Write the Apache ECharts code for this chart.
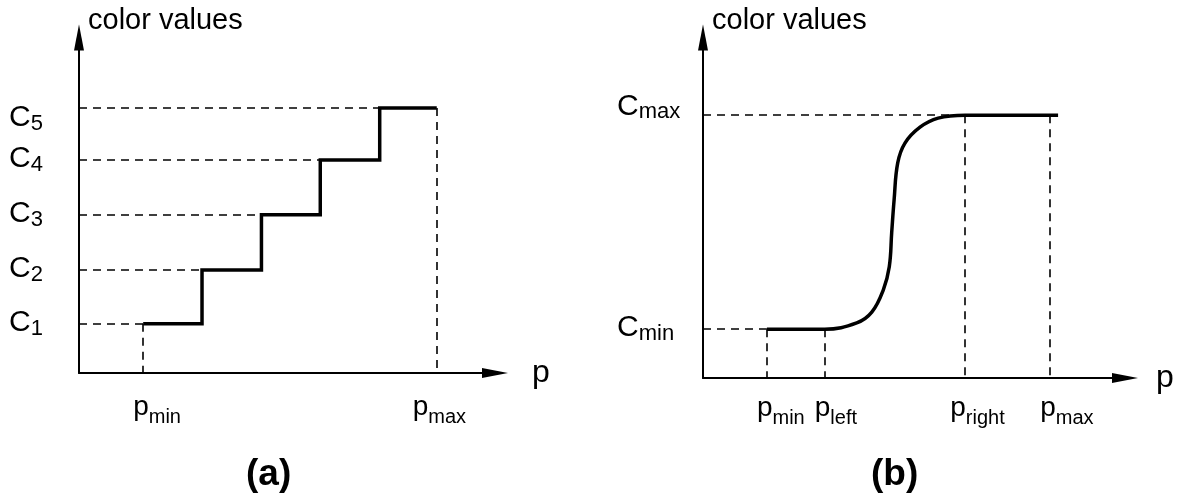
<!DOCTYPE html>
<html>
<head>
<meta charset="utf-8">
<title>color values</title>
<script src="https://cdn.jsdelivr.net/npm/echarts@6.0.0/dist/echarts.min.js"></script>
<style>
  html, body { margin: 0; padding: 0; background: #fff; }
  #main { width: 1179px; height: 503px; }
</style>
</head>
<body>
<div id="main"></div>
<script>
// (a) piecewise constant map: edges along p (pmin .. pmax) and the levels C1..C5
var stepEdges = [1.08, 2.07, 3.07, 4.06, 5.06, 6.02]
var stepLevels = [0.88, 1.84, 2.83, 3.81, 4.74]
var stepLevelNames = ['1', '2', '3', '4', '5']
var stepTickNames = ['min', 'max']

// (b) smooth ramp from Cmin to Cmax
var rampP = [1.06, 2.02, 2.55, 2.80, 2.99, 3.09, 3.13, 3.17, 3.23, 3.35, 3.60, 3.90, 4.35, 5.89]
var rampC = [0.86, 0.86, 0.97, 1.16, 1.55, 1.96, 2.56, 3.14, 3.79, 4.14, 4.42, 4.58, 4.63, 4.63]
var rampTicks = [1.06, 2.02, 4.35, 5.76]
var rampTickNames = ['min', 'left', 'right', 'max']
var rampLevels = [0.86, 4.63]
var rampLevelNames = ['min', 'max']

var FONT = 'Liberation Sans, Arial, Helvetica, sans-serif'

var richP = {
  m: { fontSize: 28, lineHeight: 30, verticalAlign: 'top', fontFamily: FONT, color: '#000' },
  s: { fontSize: 20, lineHeight: 20, verticalAlign: 'top', padding: [14, 0, 0, 0], fontFamily: FONT, color: '#000' }
}
var richC = {
  m: { fontSize: 30, lineHeight: 30, verticalAlign: 'top', fontFamily: FONT, color: '#000' },
  s: { fontSize: 22, lineHeight: 22, verticalAlign: 'top', padding: [10, 0, 0, 0], fontFamily: FONT, color: '#000' }
}

var dashStyle = { type: [8, 6], color: '#000', width: 1.6 }

function xAxis (grid, gap) {
  return {
    type: 'value', gridIndex: grid, min: 0, max: 7,
    name: 'p', nameLocation: 'end', nameGap: gap,
    nameTextStyle: { fontSize: 32, fontFamily: FONT, color: '#000', align: 'left', verticalAlign: 'middle' },
    axisLine: { onZero: false, symbol: ['none', 'triangle'], symbolSize: [10, 26], lineStyle: { color: '#000', width: 2 } },
    axisTick: { show: false }, axisLabel: { show: false }, splitLine: { show: false }
  }
}

function yAxis (grid) {
  return {
    type: 'value', gridIndex: grid, min: 0, max: 6,
    name: 'color values', nameLocation: 'end', nameGap: 2,
    nameTextStyle: { fontSize: 29, lineHeight: 29, fontFamily: FONT, color: '#000', align: 'left', verticalAlign: 'bottom', padding: [0, 0, 0, 9] },
    axisLine: { onZero: false, symbol: ['none', 'triangle'], symbolSize: [10, 26], lineStyle: { color: '#000', width: 2 } },
    axisTick: { show: false }, axisLabel: { show: false }, splitLine: { show: false }
  }
}

// text under the p axis, e.g. p with subscript "min"
function tickLabels (ticks, names, dy, nudge) {
  return ticks.map(function (t, i) {
    return {
      value: [t, 0],
      label: { position: [-10 + (nudge[i] || 0), dy], formatter: '{m|p}{s|' + names[i] + '}' }
    }
  })
}

// text left of the colour axis, e.g. C with subscript
function levelLabels (levels, names, dx, nudge) {
  return levels.map(function (c, i) {
    return {
      value: [0, c],
      label: { position: [dx, -16 + (nudge[i] || 0)], formatter: '{m|C}{s|' + names[i] + '}' }
    }
  })
}

function labelSeries (grid, data, rich) {
  return {
    type: 'scatter', xAxisIndex: grid, yAxisIndex: grid, clip: false, silent: true,
    symbolSize: 0, itemStyle: { color: '#000', opacity: 1 },
    label: { show: true, color: '#000', textBorderWidth: 0, align: 'left', verticalAlign: 'top', rich: rich },
    data: data
  }
}

// dashed guides (a)
var guidesA = stepLevels.map(function (c, i) {
  return [{ coord: [0, c] }, { coord: [stepEdges[i], c] }]
})
guidesA.push([{ coord: [stepEdges[0], stepLevels[0]] }, { coord: [stepEdges[0], 0] }])
guidesA.push([{ coord: [stepEdges[5], stepLevels[4]] }, { coord: [stepEdges[5], 0] }])

// dashed guides (b)
var guidesB = [
  [{ coord: [0, rampLevels[0]] }, { coord: [rampTicks[0], rampLevels[0]] }],
  [{ coord: [0, rampLevels[1]] }, { coord: [rampTicks[2], rampLevels[1]] }],
  [{ coord: [rampTicks[0], rampLevels[0]] }, { coord: [rampTicks[0], 0] }],
  [{ coord: [rampTicks[1], rampLevels[0]] }, { coord: [rampTicks[1], 0] }],
  [{ coord: [rampTicks[2], rampLevels[1]] }, { coord: [rampTicks[2], 0] }],
  [{ coord: [rampTicks[3], rampLevels[1]] }, { coord: [rampTicks[3], 0] }]
]

var stepData = stepEdges.map(function (p, i) {
  return [p, stepLevels[Math.min(i, stepLevels.length - 1)]]
})
var rampData = rampP.map(function (p, i) { return [p, rampC[i]] })

var chart = echarts.init(document.getElementById('main'))
chart.setOption({
  animation: false,
  backgroundColor: '#fff',
  title: [
    { text: '(a)', left: 246, top: 456, padding: 0, textStyle: { fontSize: 37, fontWeight: 'bold', fontFamily: FONT, color: '#000' } },
    { text: '(b)', left: 871, top: 456, padding: 0, textStyle: { fontSize: 37, fontWeight: 'bold', fontFamily: FONT, color: '#000' } }
  ],
  grid: [
    { left: 79, top: 37.5, width: 416, height: 335.5, outerBoundsMode: 'none' },
    { left: 703, top: 37.5, width: 422, height: 340.5, outerBoundsMode: 'none' }
  ],
  xAxis: [xAxis(0, 37), xAxis(1, 31)],
  yAxis: [yAxis(0), yAxis(1)],
  series: [
    {
      type: 'line', xAxisIndex: 0, yAxisIndex: 0, step: 'end', symbol: 'none',
      lineStyle: { color: '#000', width: 3.5, join: 'miter' },
      data: stepData,
      markLine: { silent: true, symbol: ['none', 'none'], label: { show: false }, lineStyle: dashStyle, data: guidesA }
    },
    {
      type: 'line', xAxisIndex: 1, yAxisIndex: 1, smooth: 0.4, symbol: 'none',
      lineStyle: { color: '#000', width: 3.5 },
      data: rampData,
      markLine: { silent: true, symbol: ['none', 'none'], label: { show: false }, lineStyle: dashStyle, data: guidesB }
    },
    labelSeries(0, tickLabels([stepEdges[0], stepEdges[5]], stepTickNames, 20, [0, -14]), richP),
    labelSeries(0, levelLabels(stepLevels, stepLevelNames, -70, [0, 0, 0, 0, 11]), richC),
    labelSeries(1, tickLabels(rampTicks, rampTickNames, 16, [0, 0, -5, 0]), richP),
    labelSeries(1, levelLabels(rampLevels, rampLevelNames, -86, [0, -8]), richC)
  ]
})
</script>
</body>
</html>
